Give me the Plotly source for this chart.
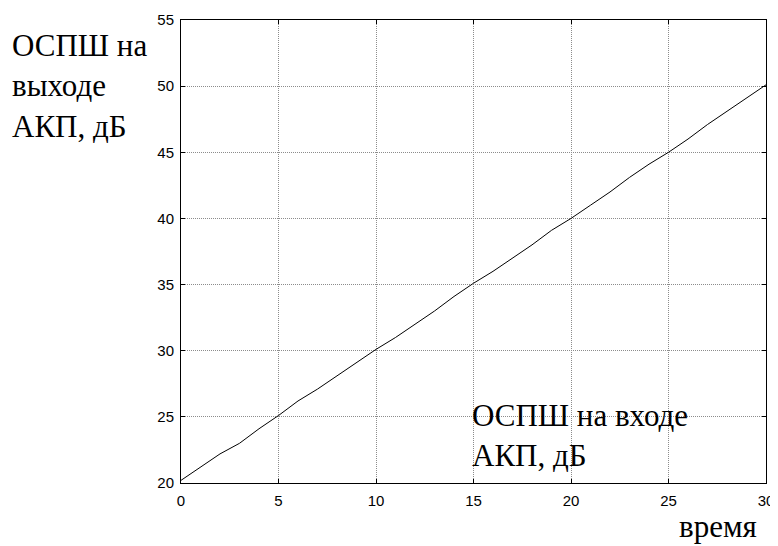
import plotly.graph_objects as go

x_vals = list(range(0, 31))
y_vals = [20.2, 21.2, 22.2, 23.0, 24.1, 25.1, 26.2, 27.1, 28.1, 29.1, 30.1,
          31.0, 32.0, 33.0, 34.1, 35.1, 36.0, 37.0, 38.0, 39.1, 40.0,
          41.0, 42.0, 43.1, 44.1, 45.0, 46.0, 47.1, 48.1, 49.1, 50.1]
x_ticks = [0, 5, 10, 15, 20, 25, 30]
y_ticks = [20, 25, 30, 35, 40, 45, 50, 55]

# page has an 8px body margin, so the figure is sized to fit the window
W, H = 770, 538
L, R, T, B = 173, 12, 12, 63
pw, ph = W - L - R, H - T - B

def px(xf):
    return (xf - L) / pw

def py(yf):
    return (H - B - yf) / ph

serif = "Liberation Serif"
fs = 31

fig = go.Figure()
fig.add_trace(go.Scatter(x=x_vals, y=y_vals, mode="lines",
                         line=dict(color="black", width=1), showlegend=False))

axis_common = dict(showline=True, linecolor="black", linewidth=1, mirror="ticks",
                   ticks="inside", ticklen=4, tickcolor="black",
                   showgrid=True, gridcolor="#8c8c8c", griddash="1px,1px", gridwidth=1,
                   zeroline=False, automargin=False,
                   tickfont=dict(family="Liberation Sans", size=15, color="black"))

fig.update_xaxes(range=[0, 30], tickvals=x_ticks, ticklabelstandoff=4, **axis_common)
fig.update_yaxes(range=[20, 55], tickvals=y_ticks, ticklabelstandoff=3, **axis_common)

fig.add_annotation(text="ОСПШ на<br>выходе<br>АКП, дБ", xref="paper", yref="paper",
                   x=px(2), y=py(18), xanchor="left", yanchor="top", align="left",
                   showarrow=False, font=dict(family=serif, size=fs, color="black"))
fig.add_annotation(text="ОСПШ на входе<br>АКП, дБ", xref="paper", yref="paper",
                   x=px(462), y=py(388), xanchor="left", yanchor="top", align="left",
                   showarrow=False, font=dict(family=serif, size=fs, color="black"))
fig.add_annotation(text="время", xref="paper", yref="paper",
                   x=px(751), y=py(499), xanchor="right", yanchor="top", align="right",
                   showarrow=False, font=dict(family=serif, size=fs, color="black"))

fig.update_layout(width=W, height=H, margin=dict(l=L, r=R, t=T, b=B),
                  paper_bgcolor="white", plot_bgcolor="white")

fig.write_html("out.html")
